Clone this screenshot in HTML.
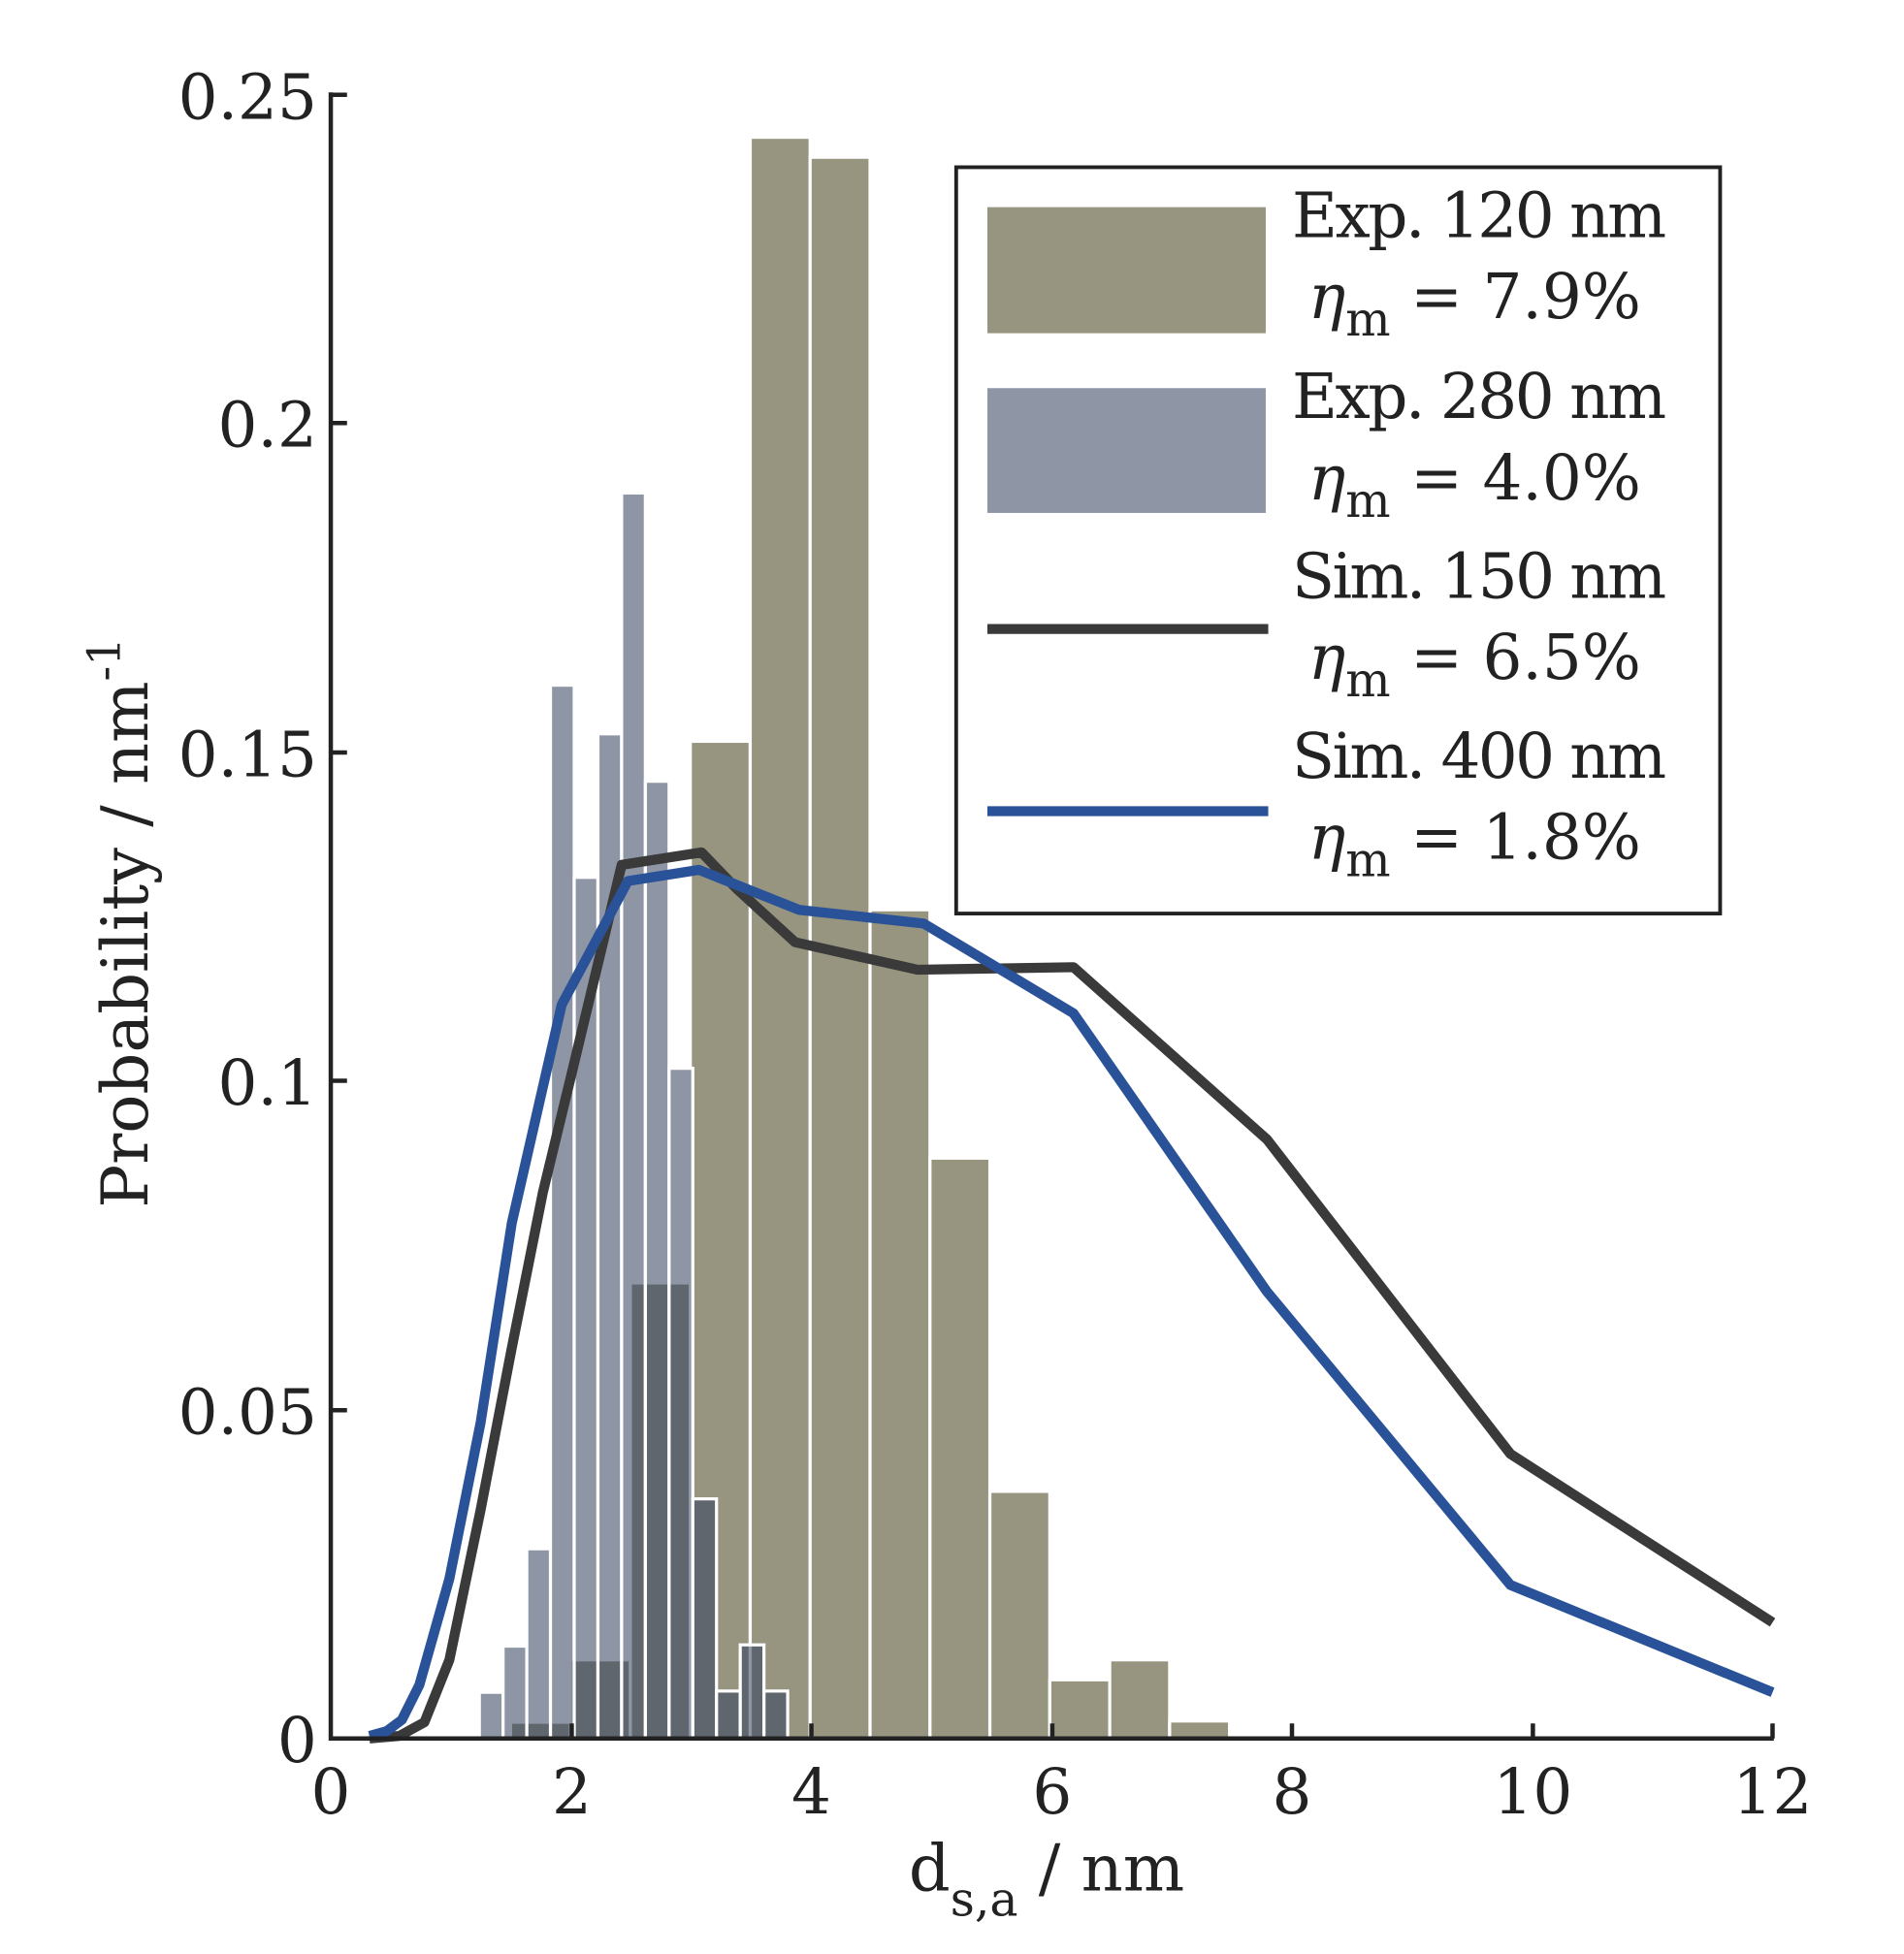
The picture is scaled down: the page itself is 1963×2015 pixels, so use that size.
<!DOCTYPE html>
<html><head><meta charset="utf-8"><style>html,body{margin:0;padding:0;background:#fff}svg{display:block}</style></head>
<body>
<svg width="1963" height="2015" viewBox="0 0 1525.3 1565.7" preserveAspectRatio="none" xmlns="http://www.w3.org/2000/svg" font-family="DejaVu Serif, Liberation Serif, serif" fill="#222">
<g stroke="#fff" stroke-width="2.5">
<g fill="#979580">
<rect x="409" y="1380" width="48" height="13"/>
<rect x="457" y="1330" width="48" height="63"/>
<rect x="505" y="1028" width="48" height="365"/>
<rect x="553" y="594" width="48" height="799"/>
<rect x="601" y="110" width="48" height="1283"/>
<rect x="649" y="126" width="48" height="1267"/>
<rect x="697" y="729" width="48" height="664"/>
<rect x="745" y="928" width="48" height="465"/>
<rect x="793" y="1195" width="48" height="198"/>
<rect x="841" y="1346" width="48" height="47"/>
<rect x="889" y="1330" width="48" height="63"/>
<rect x="937" y="1379" width="48" height="14"/>
</g>
<g fill="rgb(49,64,93)" fill-opacity="0.55">
<rect x="384" y="1356" width="19" height="37"/>
<rect x="403" y="1319" width="19" height="74"/>
<rect x="422" y="1241" width="19" height="152"/>
<rect x="441" y="549" width="19" height="844"/>
<rect x="460" y="703" width="19" height="690"/>
<rect x="479" y="588" width="19" height="805"/>
<rect x="498" y="395" width="19" height="998"/>
<rect x="517" y="626" width="19" height="767"/>
<rect x="536" y="856" width="19" height="537"/>
<rect x="555" y="1201" width="19" height="192"/>
<rect x="574" y="1355" width="19" height="38"/>
<rect x="593" y="1318" width="19" height="75"/>
<rect x="612" y="1355" width="19" height="38"/>
</g>
</g>
<g fill="none" stroke-width="8" stroke-linejoin="round">
<polyline stroke="#3a3a3a" points="296,1393 320,1391 340,1380 360,1330 385,1210 410,1080 435,955 458,860 498,693 562,683 590,712 637,755 735,777 860,775 1015,913 1210,1165 1420,1300"/>
<polyline stroke="#2a5298" points="296,1391 310,1387 322,1378 336,1350 360,1265 385,1140 410,980 450,805 503,706 560,697 640,729 740,740 860,812 1015,1035 1210,1270 1420,1356"/>
</g>
<g stroke="#222" stroke-width="3.5" fill="none">
<polyline points="265,74 265,1393 1421,1393 "/>
<path d="M265,76h13M265,339h13M265,603h13M265,866h13M265,1130h13M458,1393v-12M650,1393v-12M843,1393v-12M1035,1393v-12M1228,1393v-12M1420,1393v-12"/>
</g>
<g font-size="50" text-anchor="end">
<text x="254" y="95">0.25</text><text x="254" y="358">0.2</text><text x="254" y="622">0.15</text><text x="254" y="885">0.1</text><text x="254" y="1149">0.05</text><text x="254" y="1412">0</text>
</g>
<g font-size="50" text-anchor="middle">
<text x="265" y="1453">0</text><text x="458" y="1453">2</text><text x="650" y="1453">4</text><text x="843" y="1453">6</text><text x="1035" y="1453">8</text><text x="1228" y="1453">10</text><text x="1420" y="1453">12</text>
</g>
<text x="728" y="1515" font-size="52">d<tspan font-size="38" dy="20">s,a</tspan><tspan dy="-20"> / nm</tspan></text>
<text transform="translate(118,968) rotate(-90)" font-size="52">Probability / nm<tspan font-size="36" dy="-22">-1</tspan></text>
<rect x="766" y="134" width="612" height="598" fill="#fff" stroke="#222" stroke-width="3"/>
<rect x="791" y="166" width="223" height="101" fill="#979580"/>
<rect x="791" y="311" width="223" height="100" fill="#8e96a6"/>
<line x1="791" y1="504" x2="1016" y2="504" stroke="#3a3a3a" stroke-width="8"/>
<line x1="791" y1="650" x2="1016" y2="650" stroke="#2a5298" stroke-width="8"/>
<g font-size="50">
<text x="1035" y="190" textLength="300">Exp. 120 nm</text>
<text x="1035" y="335" textLength="300">Exp. 280 nm</text>
<text x="1035" y="479" textLength="300">Sim. 150 nm</text>
<text x="1035" y="623" textLength="300">Sim. 400 nm</text>
<text x="1048" y="255"><tspan font-style="italic">η</tspan><tspan font-size="38" dy="14">m</tspan><tspan dy="-14"> = 7.9%</tspan></text>
<text x="1048" y="400"><tspan font-style="italic">η</tspan><tspan font-size="38" dy="14">m</tspan><tspan dy="-14"> = 4.0%</tspan></text>
<text x="1048" y="544"><tspan font-style="italic">η</tspan><tspan font-size="38" dy="14">m</tspan><tspan dy="-14"> = 6.5%</tspan></text>
<text x="1048" y="688"><tspan font-style="italic">η</tspan><tspan font-size="38" dy="14">m</tspan><tspan dy="-14"> = 1.8%</tspan></text>
</g>
</svg>
</body></html>
